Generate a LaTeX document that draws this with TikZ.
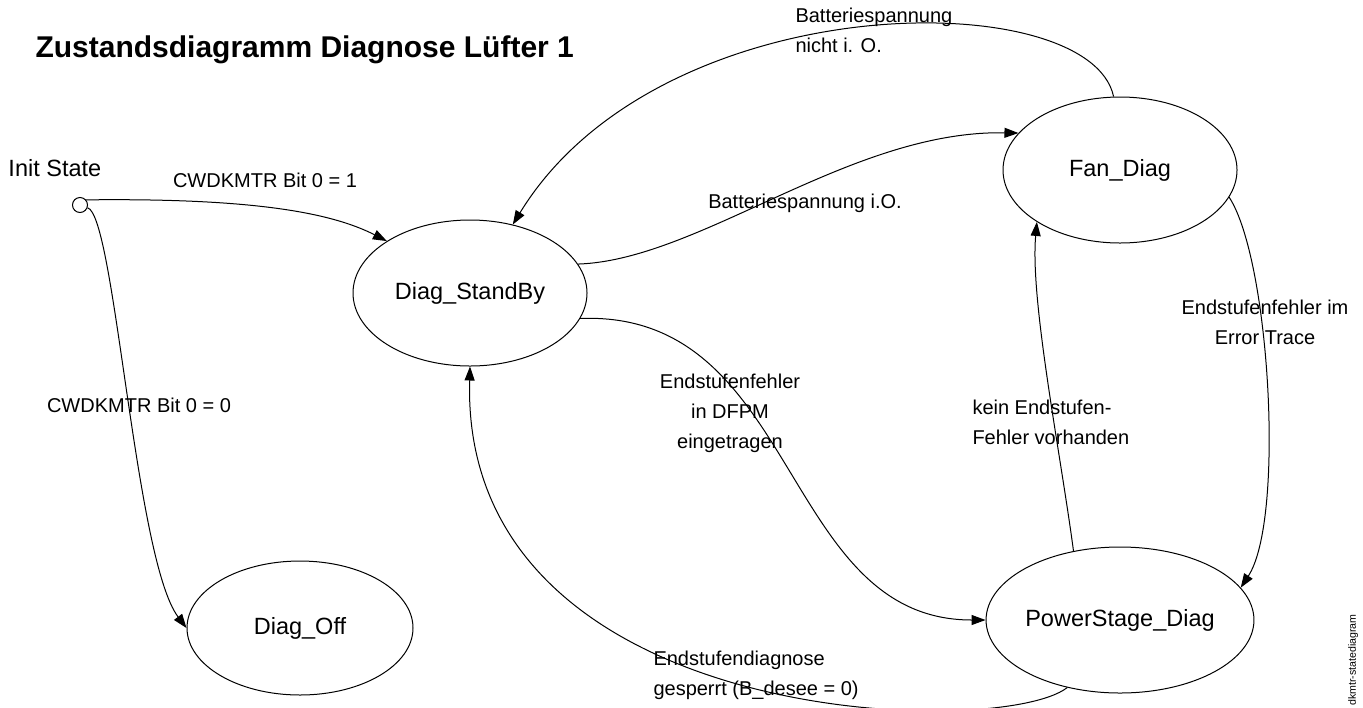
\documentclass[tikz,border=0pt]{standalone}
\usepackage{fontspec}
\setmainfont{Liberation Sans}
\usetikzlibrary{arrows.meta,shapes.geometric}

\begin{document}
\begin{tikzpicture}[
        x=0.5pt, y=-0.5pt,
        >={Triangle[length=7pt,width=5pt]},
        state/.style={draw, ellipse, inner sep=0pt, minimum width=117pt,
            minimum height=73pt, font=\fontsize{11.75}{14}\selectfont},
        note/.style={font=\fontsize{10}{15}\selectfont, inner sep=0pt},
        every path/.style={line width=0.5pt}
    ]
    \useasboundingbox (0,0) rectangle (1363,707);
    \node[anchor=west, inner sep=0pt, font=\bfseries\fontsize{15}{18}\selectfont] (title)
        at (35,50) {Zustandsdiagramm Diagnose Lüfter 1};
    \node[anchor=west, inner sep=0pt, font=\fontsize{11.75}{14}\selectfont] (inittext)
        at (8,168) {Init State};
    \node[draw, circle, minimum size=7.5pt, inner sep=0pt] (init) at (80,205) {};
    \node[state] (standby) at (470,293) {Diag\_StandBy};
    \node[state] (fan) at (1120,170) {Fan\_Diag};
    \node[state] (power) at (1120,620) {PowerStage\_Diag};
    \node[state, minimum width=113pt, minimum height=67pt] (off) at (300,628) {Diag\_Off};
    % transitions
    \draw[->] (init.40) .. controls (250,198) and (330,212) .. (standby.148);
    \draw[->] (init.-20) .. controls (115,215) and (135,560) .. (off.west);
    \draw[->] (standby.15) .. controls (700,260) and (850,130) .. (fan.160);
    \draw[->] (fan.95) .. controls (1090,-16) and (660,-16) .. (standby.58);
    \draw[->] (fan.-14) .. controls (1270,260) and (1285,520) .. (power.15);
    \draw[->] (power.124) .. controls (1060,450) and (1030,300) .. (fan.212);
    \draw[->] (standby.-13) .. controls (800,310) and (780,620) .. (power.west);
    \draw[->] (power.232) .. controls (1000,740) and (460,730) .. (standby.south);
    % conditions
    \node[note] (bit1) at (265,180) {CWDKMTR Bit 0 = 1};
    \node[note] (bit0) at (139,405) {CWDKMTR Bit 0 = 0};
    \node[note, align=left, anchor=west] (batnok) at (795,30) {Batteriespannung\\nicht i. O.};
    \node[note] (batok) at (805,203) {Batteriespannung i.O.};
    \node[note, align=center] (dfpm) at (730,413) {Endstufenfehler\\in DFPM\\eingetragen};
    \node[note, align=left, anchor=west] (noerr) at (972,422) {kein Endstufen-\\Fehler vorhanden};
    \node[note, align=center] (trace) at (1265,322) {Endstufenfehler im\\Error Trace};
    \node[note, align=left, anchor=west] (locked) at (653,675)
        {Endstufendiagnose\\gesperrt (B\_desee = 0)};
    \node[rotate=90, inner sep=0pt, font=\fontsize{5.3}{6}\selectfont] (stamp)
        at (1353,660) {dkmtr-statediagram};
\end{tikzpicture}
\end{document}
